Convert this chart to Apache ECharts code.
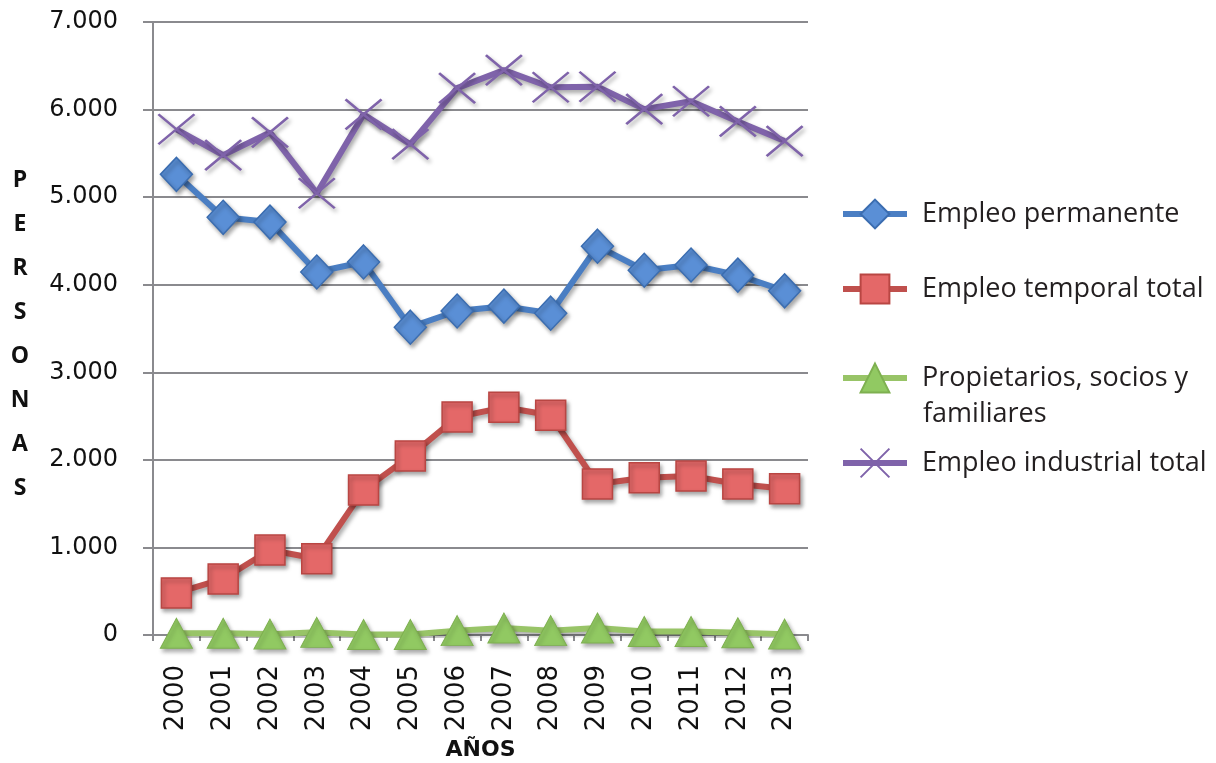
<!DOCTYPE html>
<html>
<head>
<meta charset="utf-8">
<script src="https://cdn.jsdelivr.net/npm/echarts@6/dist/echarts.min.js"></script>
<style>html,body{margin:0;padding:0;background:#fff}#c{width:1216px;height:763px}</style>
</head>
<body>
<div id="c"></div>
<script>
const years = ['2000','2001','2002','2003','2004','2005','2006','2007','2008','2009','2010','2011','2012','2013'];
const empleoPermanente = [5260,4770,4715,4145,4260,3515,3700,3755,3675,4440,4165,4225,4110,3930];
const empleoTemporal = [480,640,970,870,1655,2045,2490,2600,2510,1725,1795,1815,1725,1670];
const propietarios = [20,20,10,30,5,5,50,80,50,80,40,40,25,10];
const empleoIndustrial = [5775,5480,5740,5045,5945,5605,6245,6450,6255,6260,6005,6095,5865,5640];
const yTicks = ['0','1.000','2.000','3.000','4.000','5.000','6.000','7.000'];
const names = ['Empleo permanente','Empleo temporal total','Propietarios, socios y familiares','Empleo industrial total'];
const yTitle = 'PERSONAS';

const chart = echarts.init(document.getElementById('c'), null, {width:1216, height:763});
const shadow = {shadowColor:'rgba(0,0,0,0.35)', shadowBlur:4, shadowOffsetX:2, shadowOffsetY:3};
const grey = '#8a8a8e';
function legend(name, top, fmt){
  const l = {
    data:[name], left:835, top:top, orient:'vertical',
    itemWidth:64, itemHeight:36,
    lineStyle:{width:6},
    textStyle:{fontFamily:'Open Sans', fontSize:27, color:'#231f20', lineHeight:36, padding:[0,0,0,10]}
  };
  if (fmt) l.formatter = fmt;
  return l;
}
chart.setOption({
  animation:false,
  grid:{left:153, right:408, top:22, bottom:128, containLabel:false, outerBoundsMode:'none'},
  legend:[
    legend(names[0], 191),
    legend(names[1], 266),
    legend(names[2], 355, ()=> 'Propietarios, socios y'),
    legend(names[3], 440)
  ],
  graphic:[
    {type:'text', left:923, top:401, style:{text:'familiares', font:'27px "Open Sans"', fill:'#231f20'}},
    {type:'text', x:20, y:158, style:{text:yTitle.split('').join('\n'), font:'bold 23px "Open Sans"', lineHeight:44, fill:'#111', align:'center', verticalAlign:'top'}}
  ],
  xAxis:{
    type:'category', data:years, boundaryGap:true,
    axisLine:{lineStyle:{color:grey, width:2}},
    axisTick:{show:true, length:6, lineStyle:{color:grey, width:2}},
    axisLabel:{rotate:90, margin:30, fontFamily:'DejaVu Sans', fontSize:26, color:'#111'},
    name:'AÑOS', nameLocation:'middle', nameGap:100,
    nameTextStyle:{fontFamily:'DejaVu Sans', fontWeight:'bold', fontSize:22, color:'#111'}
  },
  yAxis:{
    type:'value', min:0, max:7000, interval:1000,
    axisLine:{show:true, lineStyle:{color:grey, width:2}},
    axisTick:{show:true, length:10, lineStyle:{color:grey, width:2}},
    splitLine:{lineStyle:{color:grey, width:2}},
    axisLabel:{margin:35, fontFamily:'DejaVu Sans', fontSize:24, color:'#111',
      formatter:(v)=>yTicks[Math.round(v/1000)]}
  },
  series:[
    {name:names[0], type:'line', data:empleoPermanente, symbol:'diamond', symbolSize:[32,34], z:4,
      color:'#4f81c4',
      lineStyle:Object.assign({color:'#4a7ec3', width:6}, shadow),
      itemStyle:Object.assign({color:'#5a8fd6', borderColor:'#3b6db0', borderWidth:1.5}, shadow)},
    {name:names[1], type:'line', data:empleoTemporal, symbol:'rect', symbolSize:[30,30], z:3,
      color:'#d65a57',
      lineStyle:Object.assign({color:'#c0504d', width:6}, shadow),
      itemStyle:Object.assign({color:'#e46868', borderColor:'#b94643', borderWidth:1.5}, shadow)},
    {name:names[2], type:'line', data:propietarios, symbol:'triangle', symbolSize:[32,30], z:5,
      color:'#92c863',
      lineStyle:Object.assign({color:'#98c467', width:6}, shadow),
      itemStyle:Object.assign({color:'#91c962', borderColor:'#7eb050', borderWidth:1}, shadow)},
    {name:names[3], type:'line', data:empleoIndustrial, symbol:'path://M0,0 L10,8 M10,0 L0,8', symbolSize:[36,30], z:2,
      color:'#7f63aa',
      lineStyle:Object.assign({color:'#7f63aa', width:6}, shadow),
      itemStyle:Object.assign({color:'#7f63aa', borderColor:'#7f63aa', borderWidth:2.5}, shadow)}
  ]
});
</script>
</body>
</html>
